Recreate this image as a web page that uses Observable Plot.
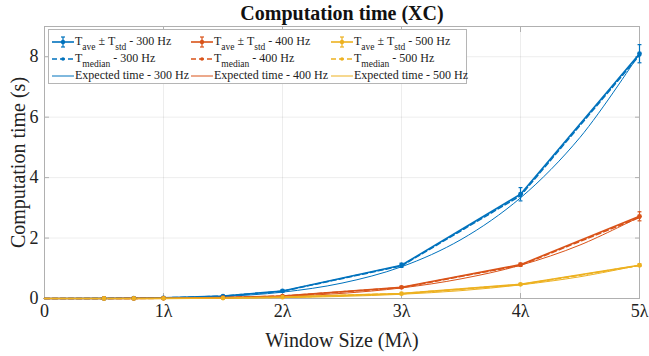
<!DOCTYPE html>
<html>
<head>
<meta charset="utf-8">
<script src="https://cdn.jsdelivr.net/npm/d3@7"></script>
<script src="https://cdn.jsdelivr.net/npm/@observablehq/plot@0.6"></script>
<style>
  html, body { margin: 0; padding: 0; background: #fff; }
  #wrap { position: relative; width: 649px; height: 356px; font-family: "Liberation Serif", "Times New Roman", serif; }
  #legend { position: absolute; left: 48px; top: 29px; width: 419px; height: 55px; border: 1px solid #b5b5b5; background: #fff; box-sizing: border-box; font-family: "Liberation Serif", "Times New Roman", serif; }
  .entry { position: absolute; height: 17px; display: flex; align-items: center; font-size: 12px; color: #222; white-space: nowrap; }
  .entry svg { margin-right: 1px; }
  .sub { font-size: 9.5px; position: relative; top: 5px; }
</style>
</head>
<body>
<div id="wrap"><div id="chart"></div><div id="legend"></div></div>
<script>
// ---- data ----
const windowSizes = [0, 0.5, 0.75, 1, 1.5, 2, 3, 4, 5];
const ave300 = [0, 0.003, 0.008, 0.02, 0.08, 0.25, 1.1, 3.45, 8.1];
const std300 = [0, 0.001, 0.002, 0.005, 0.01, 0.03, 0.07, 0.22, 0.3];
const med300 = [0, 0.003, 0.008, 0.02, 0.08, 0.24, 1.08, 3.4, 8.05];
const ave400 = [0, 0.001, 0.003, 0.008, 0.03, 0.08, 0.37, 1.12, 2.72];
const std400 = [0, 0, 0.001, 0.002, 0.004, 0.01, 0.03, 0.05, 0.15];
const med400 = [0, 0.001, 0.003, 0.008, 0.03, 0.08, 0.36, 1.1, 2.68];
const ave500 = [0, 0.0008, 0.002, 0.005, 0.015, 0.045, 0.16, 0.47, 1.1];
const std500 = [0, 0, 0, 0.001, 0.002, 0.004, 0.01, 0.02, 0.04];
const med500 = [0, 0.0008, 0.002, 0.005, 0.015, 0.044, 0.16, 0.46, 1.09];

const expSizes = [0, 0.5, 1, 1.5, 2, 2.5, 3, 3.5, 4, 4.5, 5];
const exp300 = [0, 0.001, 0.013, 0.066, 0.21, 0.51, 1.05, 1.95, 3.33, 5.33, 8.1];
const exp400 = [0, 0.0003, 0.004, 0.022, 0.07, 0.17, 0.35, 0.65, 1.1, 1.77, 2.7];
const exp500 = [0, 0.0001, 0.0018, 0.009, 0.028, 0.069, 0.14, 0.26, 0.45, 0.72, 1.1];

const xTicks = [0, 1, 2, 3, 4, 5];
const xTickLabels = ["0", "1λ", "2λ", "3λ", "4λ", "5λ"];
const yTicks = [0, 2, 4, 6, 8];
const freqs = ["300 Hz", "400 Hz", "500 Hz"];
const colors = ["#0072BD", "#D95319", "#EDB120"];

// ---- tables ----
const aves = [ave300, ave400, ave500], stds = [std300, std400, std500], meds = [med300, med400, med500];
const exps = [exp300, exp400, exp500];
const meas = [], expected = [];
freqs.forEach((f, k) => {
  windowSizes.forEach((x, i) => meas.push({f, x, ave: aves[k][i], lo: aves[k][i] - stds[k][i], hi: aves[k][i] + stds[k][i], med: meds[k][i]}));
  expSizes.forEach((x, i) => expected.push({f, x, y: exps[k][i]}));
});

const capSymbol = { draw(ctx, size) { const w = Math.sqrt(size) / 2; ctx.moveTo(-w, 0); ctx.lineTo(w, 0); } };
const serif = "Liberation Serif, Times New Roman, serif";

const chart = Plot.plot({
  width: 649, height: 356,
  marginLeft: 44, marginRight: 10, marginTop: 26, marginBottom: 58,
  style: { fontFamily: serif, background: "#fff", color: "#222" },
  x: { domain: [0, 5], ticks: xTicks },
  y: { domain: [0, 9], ticks: yTicks },
  color: { domain: freqs, range: colors },
  marks: [
    Plot.gridX(xTicks, { stroke: "#000", strokeOpacity: 0.07 }),
    Plot.gridY(yTicks, { stroke: "#000", strokeOpacity: 0.07 }),
    Plot.frame({ stroke: "#b0b0b0" }),
    Plot.axisX(xTicks, { tickSize: -5, tickPadding: 11, stroke: "#b0b0b0", tickFormat: (d, i) => xTickLabels[i], fontSize: 18, label: null, fill: "#222" }),
    Plot.axisX(xTicks, { anchor: "top", tickSize: -5, stroke: "#b0b0b0", tickFormat: () => "", label: null }),
    Plot.axisY(yTicks, { tickSize: -5, tickPadding: 11, stroke: "#b0b0b0", fontSize: 18, label: null, fill: "#222" }),
    Plot.axisY(yTicks, { anchor: "right", tickSize: -5, stroke: "#b0b0b0", tickFormat: () => "", label: null }),
    // expected curves
    Plot.line(expected, { x: "x", y: "y", z: "f", stroke: "f", strokeWidth: 1, curve: "catmull-rom" }),
    // median dashed
    Plot.line(meas, { x: "x", y: "med", z: "f", stroke: "f", strokeWidth: 1.5, strokeDasharray: "5,3" }),
    Plot.dot(meas.filter(d => d.x > 0), { x: "x", y: "med", fill: "f", r: 1.6 }),
    // average solid with error bars
    Plot.line(meas, { x: "x", y: "ave", z: "f", stroke: "f", strokeWidth: 1.6 }),
    Plot.ruleX(meas, { x: "x", y1: "lo", y2: "hi", stroke: "f", strokeWidth: 1.2 }),
    Plot.dot(meas.filter(d => d.x > 0), { x: "x", y: "hi", stroke: "f", symbol: capSymbol, r: 2.2, strokeWidth: 1.2 }),
    Plot.dot(meas.filter(d => d.x > 0), { x: "x", y: "lo", stroke: "f", symbol: capSymbol, r: 2.2, strokeWidth: 1.2 }),
    Plot.dot(meas.filter(d => d.x > 0), { x: "x", y: "ave", fill: "f", r: 2.4 }),
    // title and axis labels
    Plot.text(["Computation time (XC)"], { frameAnchor: "top", dy: -13, fontSize: 20, fontWeight: "bold", fill: "#111", lineAnchor: "middle" }),
    Plot.text(["Window Size (Mλ)"], { frameAnchor: "bottom", dy: 42, fontSize: 20, fill: "#222", lineAnchor: "middle" }),
    Plot.text(["Computation time (s)"], { frameAnchor: "left", textAnchor: "middle", dx: -26, rotate: -90, fontSize: 20, fill: "#222", lineAnchor: "middle" })
  ]
});
document.getElementById("chart").appendChild(chart);

// ---- legend ----
const legend = document.getElementById("legend");
const colX = [3, 142, 282];
const rowY = [3, 20, 37];
function swatch(type, c) {
  let s = `<svg width="22" height="14" viewBox="0 0 22 14">`;
  if (type === "ave") {
    s += `<line x1="0" y1="7" x2="22" y2="7" stroke="${c}" stroke-width="1.6"/>`;
    s += `<line x1="11" y1="2" x2="11" y2="12" stroke="${c}" stroke-width="1.2"/>`;
    s += `<line x1="9" y1="2" x2="13" y2="2" stroke="${c}" stroke-width="1.2"/>`;
    s += `<line x1="9" y1="12" x2="13" y2="12" stroke="${c}" stroke-width="1.2"/>`;
    s += `<circle cx="11" cy="7" r="2.2" fill="${c}"/>`;
  } else if (type === "med") {
    s += `<line x1="0" y1="7" x2="22" y2="7" stroke="${c}" stroke-width="1.5" stroke-dasharray="5,3"/>`;
    s += `<circle cx="11" cy="7" r="1.8" fill="${c}"/>`;
  } else {
    s += `<line x1="0" y1="7" x2="22" y2="7" stroke="${c}" stroke-width="1"/>`;
  }
  return s + `</svg>`;
}
freqs.forEach((f, k) => {
  const texts = [
    ["ave", `T<span class="sub">ave</span>&nbsp;± T<span class="sub">std</span>&nbsp;- ${f}`],
    ["med", `T<span class="sub">median</span>&nbsp;- ${f}`],
    ["exp", `Expected time - ${f}`]
  ];
  texts.forEach(([type, html], r) => {
    const e = document.createElement("div");
    e.className = "entry";
    e.style.left = colX[k] + "px";
    e.style.top = rowY[r] + "px";
    e.innerHTML = swatch(type, colors[k]) + `<span>${html}</span>`;
    legend.appendChild(e);
  });
});
</script>
</body>
</html>
